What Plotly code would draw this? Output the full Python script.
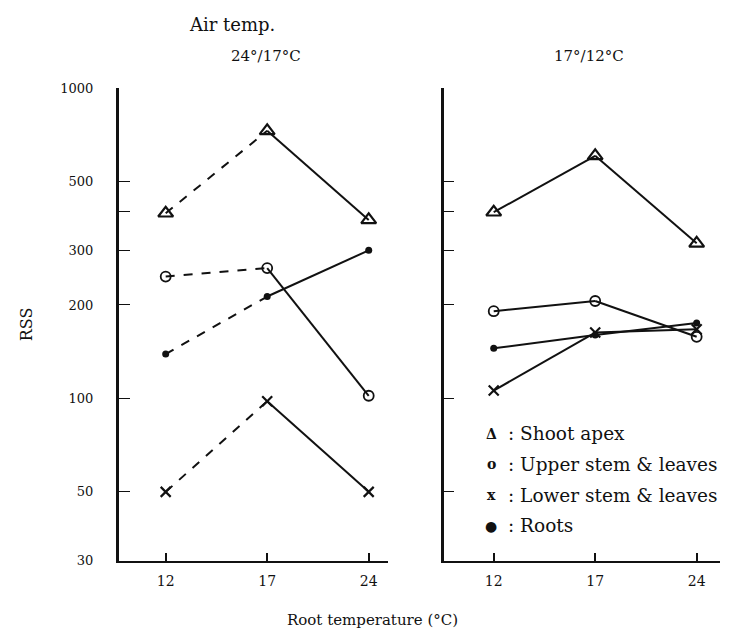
import plotly.graph_objects as go

# ---------------- data ----------------
root_temps = ["12", "17", "24"]

# Air temp. 24°/17°C (left panel)
warm_shoot = [395, 728, 376]
warm_upper = [247, 263, 102]
warm_lower = [50, 98, 50]
warm_roots = [139, 213, 300]

# Air temp. 17°/12°C (right panel)
cool_shoot = [398, 605, 316]
cool_upper = [191, 206, 158]
cool_lower = [106, 163, 167]
cool_roots = [145, 160, 175]

y_tick_vals = [30, 50, 100, 200, 300, 400, 500, 1000]
y_tick_text = ["30", "50", "100", "200", "300", "", "500", "1000"]

legend_symbols = ["Δ", "o", "x", "●"]
legend_labels = ["Shoot apex", "Upper stem & leaves", "Lower stem & leaves", "Roots"]

# ---------------- styling ----------------
W, H = 736, 641
FONT = "DejaVu Serif, Liberation Serif, serif"
BLACK = "#111111"

markers = [
    dict(symbol="triangle-up-open", size=13, line=dict(width=2.2, color=BLACK), color=BLACK),
    dict(symbol="circle-open", size=10, line=dict(width=1.8, color=BLACK), color=BLACK),
    dict(symbol="x-thin-open", size=10, line=dict(width=2.2, color=BLACK), color=BLACK),
    dict(symbol="circle", size=7, color=BLACK),
]

fig = go.Figure()

def add_series(vals, marker, xa, ya, first_dash):
    # segment 12 -> 17
    fig.add_trace(go.Scatter(
        x=root_temps[0:2], y=vals[0:2], mode="lines",
        line=dict(color=BLACK, width=2, dash=first_dash),
        xaxis=xa, yaxis=ya, showlegend=False, hoverinfo="skip"))
    # segment 17 -> 24
    fig.add_trace(go.Scatter(
        x=root_temps[1:3], y=vals[1:3], mode="lines",
        line=dict(color=BLACK, width=2, dash="solid"),
        xaxis=xa, yaxis=ya, showlegend=False, hoverinfo="skip"))
    fig.add_trace(go.Scatter(
        x=root_temps, y=vals, mode="markers", marker=marker,
        xaxis=xa, yaxis=ya, showlegend=False,
        cliponaxis=False))

for vals, mk in zip([warm_shoot, warm_upper, warm_lower, warm_roots], markers):
    add_series(vals, mk, "x", "y", "dash")
for vals, mk in zip([cool_shoot, cool_upper, cool_lower, cool_roots], markers):
    add_series(vals, mk, "x2", "y2", "solid")

def px(x):
    return x / W

def py(y):
    return 1 - y / H

ydom = [py(567), py(83)]
yrange = [1.4771, 3.0]

common_x = dict(
    type="category", showline=True, linecolor=BLACK, linewidth=1.5,
    ticks="inside", ticklen=8, tickwidth=1.5, tickcolor=BLACK,
    showgrid=False, zeroline=False, ticklabelstandoff=7,
    tickfont=dict(family=FONT, size=14, color=BLACK),
)

fig.update_layout(
    width=W, height=H,
    margin=dict(l=0, r=0, t=0, b=0),
    paper_bgcolor="white", plot_bgcolor="white",
    xaxis=dict(common_x, domain=[px(119), px(388)], range=[-0.46, 2.19], anchor="y"),
    xaxis2=dict(common_x, domain=[px(444), px(720)], range=[-0.49, 2.23], anchor="y2"),
    yaxis=dict(
        type="log", domain=ydom, range=yrange, anchor="x",
        showline=True, linecolor=BLACK, linewidth=3,
        tickmode="array", tickvals=y_tick_vals, ticktext=y_tick_text,
        ticks="inside", ticklen=11, tickwidth=1.2, tickcolor=BLACK,
        showgrid=False, zeroline=False, ticklabelstandoff=20,
        tickfont=dict(family=FONT, size=13, color=BLACK),
        title=dict(text="RSS", font=dict(family=FONT, size=16, color=BLACK), standoff=24),
    ),
    yaxis2=dict(
        type="log", domain=ydom, range=yrange, anchor="x2",
        showline=True, linecolor=BLACK, linewidth=3,
        tickmode="array", tickvals=y_tick_vals, ticktext=[""] * len(y_tick_vals),
        ticks="inside", ticklen=10, tickwidth=1.2, tickcolor=BLACK,
        showgrid=False, zeroline=False, showticklabels=False,
    ),
    showlegend=False,
)

annots = [
    dict(text="Air temp.", x=px(232), y=py(18), size=18),
    dict(text="24°/17°C", x=px(266), y=py(50), size=15),
    dict(text="17°/12°C", x=px(589), y=py(50), size=15),
    dict(text="Root temperature (°C)", x=px(372), y=py(628), size=15),
]
for a in annots:
    fig.add_annotation(
        text=a["text"], x=a["x"], y=a["y"], xref="paper", yref="paper",
        showarrow=False, xanchor="center", yanchor="middle",
        font=dict(family=FONT, size=a["size"], color=BLACK))

legend_y = [437, 468, 500, 531]
for sym, lab, ly in zip(legend_symbols, legend_labels, legend_y):
    fig.add_annotation(
        text="<b>" + sym + "</b>", x=px(491), y=py(ly), xref="paper", yref="paper",
        showarrow=False, xanchor="center", yanchor="middle",
        font=dict(family=FONT, size=14, color=BLACK))
    fig.add_annotation(
        text=": " + lab, x=px(506), y=py(ly), xref="paper", yref="paper",
        showarrow=False, xanchor="left", yanchor="middle",
        font=dict(family=FONT, size=18.5, color=BLACK))

fig.write_html("out.html")
